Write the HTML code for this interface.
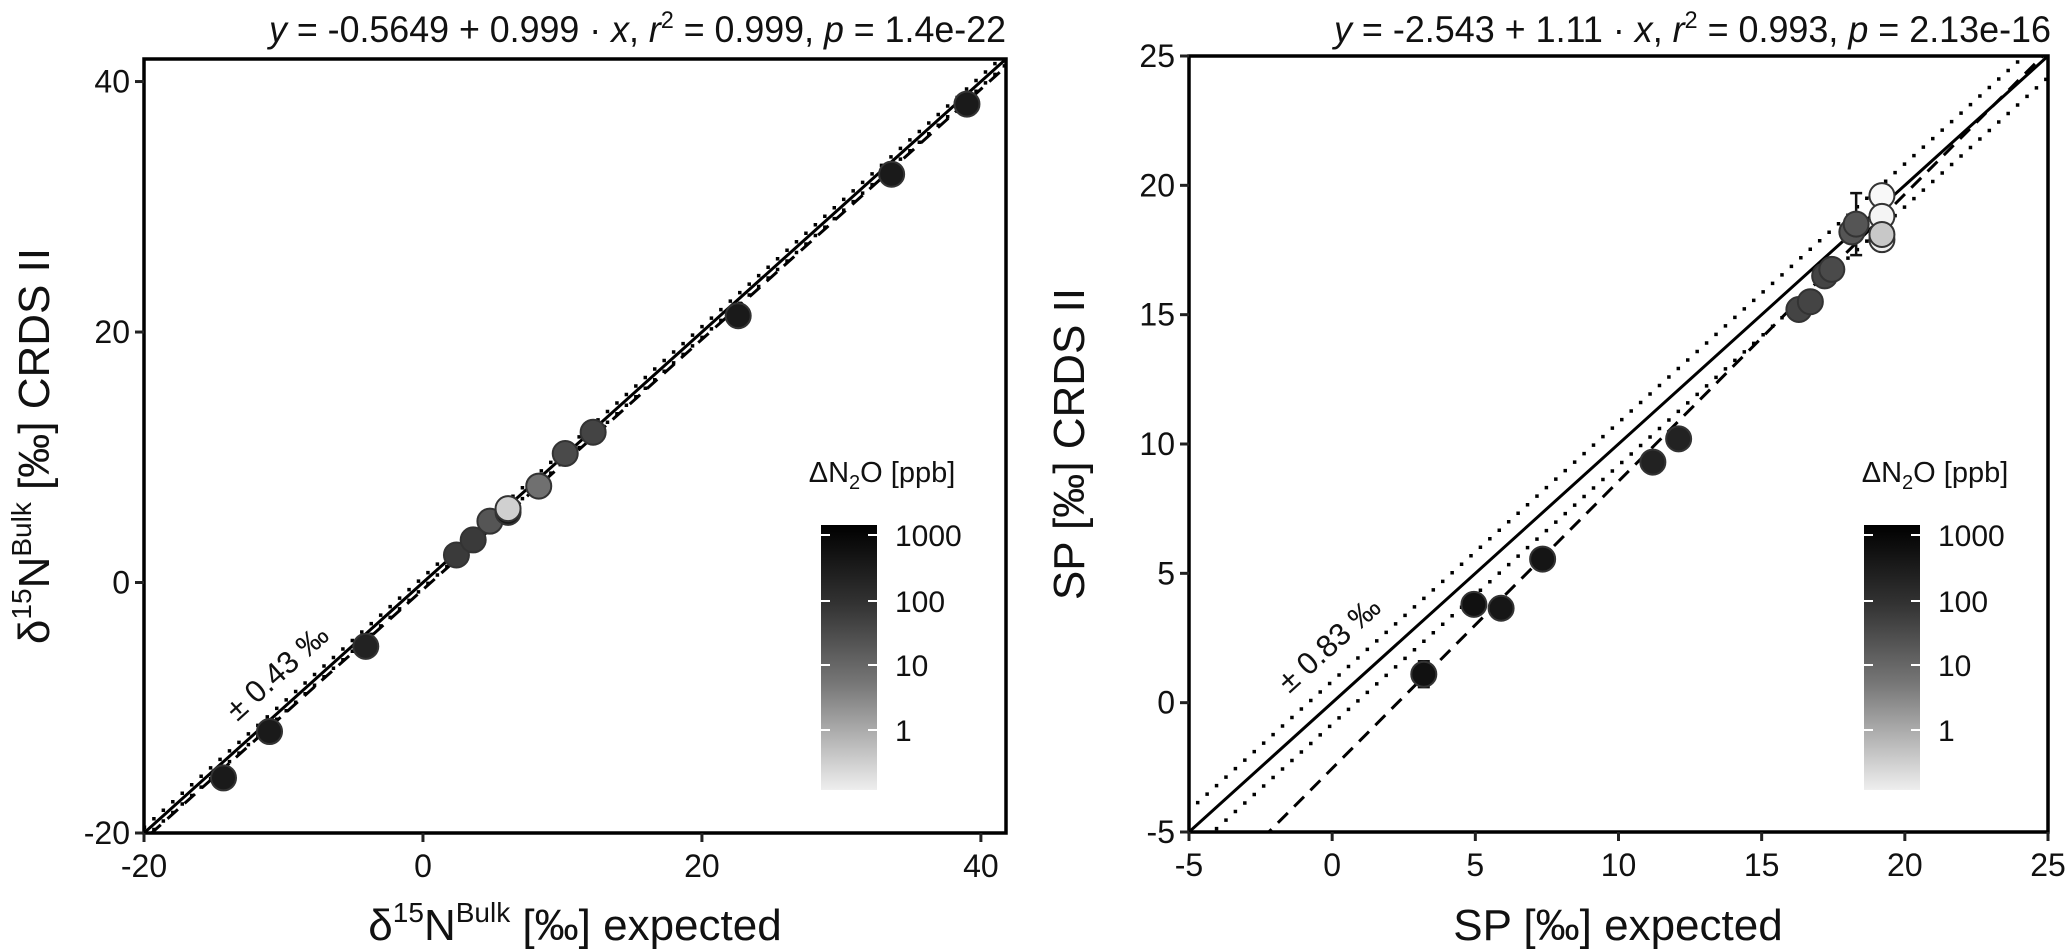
<!DOCTYPE html>
<html><head><meta charset="utf-8"><style>
html,body{margin:0;padding:0;background:#fff;}
svg{display:block;font-family:"Liberation Sans",sans-serif;}
</style></head><body>
<svg id="fig" width="2067" height="952" viewBox="0 0 2067 952" xmlns="http://www.w3.org/2000/svg">
<defs>
<linearGradient id="cbar" x1="0" y1="0" x2="0" y2="1">
<stop offset="0" stop-color="#000"/><stop offset="0.3" stop-color="#333"/><stop offset="0.6" stop-color="#777"/><stop offset="1" stop-color="#eee"/>
</linearGradient>
<clipPath id="clipL"><rect x="144" y="59" width="862" height="774"/></clipPath>
<clipPath id="clipR"><rect x="1189" y="56" width="859" height="776"/></clipPath>
</defs>
</svg>
<script>
// ---- Left panel data ----
const leftX = [-14.3,-11.0,-4.1,2.4,3.6,4.8,6.1,6.1,8.3,10.2,12.2,22.6,33.6,39.0];
const leftY = [-15.6,-11.9,-5.1,2.2,3.4,4.9,5.6,5.9,7.7,10.3,12.0,21.3,32.6,38.2];
const leftFill = ['#1a1a1a','#1a1a1a','#222','#3a3a3a','#3a3a3a','#555','#1a1a1a','#d0d0d0','#707070','#4a4a4a','#444','#1a1a1a','#1a1a1a','#1a1a1a'];
const leftTicks = [-20,0,20,40];
const leftFit = [-0.5649,0.999];
const leftBand = [0.43];
// ---- Right panel data ----
const rightX = [3.2,4.95,5.9,7.35,11.2,12.1,16.3,16.7,17.2,17.45,18.15,18.3,19.2,19.2,19.2,19.2];
const rightY = [1.1,3.8,3.65,5.55,9.3,10.2,15.2,15.5,16.5,16.75,18.2,18.5,19.6,18.8,17.9,18.1];
const rightErr = [0.5,0.2,0.2,0.2,0.2,0.2,0.35,0.2,0.35,0.2,0.2,1.2,0.2,0.2,0.2,0.2];
const rightFill = ['#111','#111','#161616','#151515','#222','#222','#444','#444','#444','#4a4a4a','#555','#555','#f8f8f8','#f4f4f4','#f0f0f0','#c8c8c8'];
const rightTicks = [-5,0,5,10,15,20,25];
const rightFit = [-2.543,1.11];
const rightBand = [0.83];
const cbarTicks = ['1000','100','10','1'];

const NS='http://www.w3.org/2000/svg';
const svg=document.getElementById('fig');
function mk(tag,attrs,parent){const e=document.createElementNS(NS,tag);for(const k in attrs)e.setAttribute(k,attrs[k]);(parent||svg).appendChild(e);return e;}

function panel(o){
  const g=mk('g',{});
  
  
  const sx=v=>o.x0+(v-o.xmin)*(o.x1-o.x0)/(o.xmax-o.xmin);
  const sy=v=>o.y0-(v-o.ymin)*(o.y0-o.y1)/(o.ymax-o.ymin);
  const cg=mk('g',{'clip-path':'url(#'+o.clip+')'},g);
  function line(a,b,style,name){
    const xa=o.xmin-2, xb=o.xmax+2;
    const l=mk('line',Object.assign({x1:sx(xa),y1:sy(a+b*xa),x2:sx(xb),y2:sy(a+b*xb),stroke:'#000'},style),cg);
    
    
  }
  line(0,1,{'stroke-width':3},'one-to-one-line');
  line(o.fit[0],o.fit[1],{'stroke-width':3,'stroke-dasharray':'14 9'},'regression-line');
  line(o.band,1,{'stroke-width':3.5,'stroke-dasharray':'0 12.7','stroke-linecap':'square'},'upper-band-line');
  line(-o.band,1,{'stroke-width':3.5,'stroke-dasharray':'0 12.7','stroke-linecap':'square'},'lower-band-line');
  if(o.err){o.xs.forEach((v,i)=>{const e=o.err[i];if(e<0.3)return;
    const eb=mk('path',{d:`M${sx(v)},${sy(o.ys[i]-e)}V${sy(o.ys[i]+e)}M${sx(v)-6},${sy(o.ys[i]-e)}h12M${sx(v)-6},${sy(o.ys[i]+e)}h12`,stroke:'#111','stroke-width':2.5,fill:'none'},cg);
    
    });}
  o.xs.forEach((v,i)=>{
    const c=mk('circle',{cx:sx(v),cy:sy(o.ys[i]),r:12.5,fill:o.fill[i],stroke:'#333','stroke-width':2},cg);
    
    
  });
  const fr=mk('rect',{x:o.x0,y:o.y1,width:o.xr-o.x0,height:o.y0-o.y1,fill:'none',stroke:'#000','stroke-width':3.5},g);
  
  
  o.ticks.forEach(t=>{
    const tx=mk('line',{x1:sx(t),y1:o.y0,x2:sx(t),y2:o.y0+9,stroke:'#222','stroke-width':3},g);
    
    
    const lx=mk('text',{x:sx(t),y:o.y0+44,'font-size':32,'text-anchor':'middle',fill:'#111'},g);
    lx.textContent=String(t);
    
    
    const ty=mk('line',{x1:o.x0-9,y1:sy(t),x2:o.x0,y2:sy(t),stroke:'#222','stroke-width':3},g);
    
    
    const ly=mk('text',{x:o.x0-14,y:sy(t)+11,'font-size':32,'text-anchor':'end',fill:'#111'},g);
    ly.textContent=String(t);
    
    
  });
  const cb=mk('rect',{x:o.cbx,y:525,width:56,height:265,fill:'url(#cbar)'},g);
  
  
  const cy=[535,601,665,730];
  cbarTicks.forEach((t,i)=>{
    mk('path',{d:`M${o.cbx},${cy[i]}h9M${o.cbx+47},${cy[i]}h9`,stroke:'#fff','stroke-width':2},g);
    const tl=mk('text',{x:o.cbx+74,y:cy[i]+11,'font-size':30,fill:'#111'},g);
    tl.textContent=t;
    
    
  });
  return {g,sx,sy};
}

panel({name:'left-panel',clip:'clipL',x0:144,xr:1006,y0:833,y1:59,xmin:-20,xmax:41.8,x1:1006,ymin:-20,ymax:41.8,
  xs:leftX,ys:leftY,fill:leftFill,ticks:leftTicks,fit:leftFit,band:leftBand[0],cbx:821});
panel({name:'right-panel',clip:'clipR',x0:1189,xr:2048,y0:832,y1:56,xmin:-5,xmax:25,x1:2048,ymin:-5,ymax:25,
  xs:rightX,ys:rightY,err:rightErr,fill:rightFill,ticks:rightTicks,fit:rightFit,band:rightBand[0],cbx:1864});
</script>
<svg width="2067" height="952" style="position:absolute;left:0;top:0;font-family:'Liberation Sans',sans-serif" xmlns="http://www.w3.org/2000/svg">
<text x="269" y="42" font-size="37" textLength="737" lengthAdjust="spacingAndGlyphs" fill="#111"><tspan font-style="italic">y</tspan> = -0.5649 + 0.999 · <tspan font-style="italic">x</tspan>,  <tspan font-style="italic">r</tspan><tspan font-size="24" dy="-14">2</tspan><tspan dy="14"> = 0.999,  </tspan><tspan font-style="italic">p</tspan> = 1.4e-22</text>
<text x="1334" y="42" font-size="37" textLength="717" lengthAdjust="spacingAndGlyphs" fill="#111"><tspan font-style="italic">y</tspan> = -2.543 + 1.11 · <tspan font-style="italic">x</tspan>,  <tspan font-style="italic">r</tspan><tspan font-size="24" dy="-14">2</tspan><tspan dy="14"> = 0.993,  </tspan><tspan font-style="italic">p</tspan> = 2.13e-16</text>
<text x="575" y="940" font-size="44" text-anchor="middle" fill="#111">δ<tspan font-size="28" dy="-18">15</tspan><tspan dy="18">N</tspan><tspan font-size="28" dy="-18">Bulk</tspan><tspan dy="18"> [‰]  expected</tspan></text>
<text x="1618" y="940" font-size="44" text-anchor="middle" fill="#111">SP [‰]  expected</text>
<text transform="translate(49,446) rotate(-90)" font-size="44" text-anchor="middle" fill="#111">δ<tspan font-size="28" dy="-18">15</tspan><tspan dy="18">N</tspan><tspan font-size="28" dy="-18">Bulk</tspan><tspan dy="18"> [‰] CRDS II</tspan></text>
<text transform="translate(1084,444) rotate(-90)" font-size="44" text-anchor="middle" fill="#111">SP [‰] CRDS II</text>
<text x="882" y="482" font-size="29" text-anchor="middle" fill="#111">ΔN<tspan font-size="20" dy="7">2</tspan><tspan dy="-7">O [ppb]</tspan></text>
<text x="1935" y="482" font-size="29" text-anchor="middle" fill="#111">ΔN<tspan font-size="20" dy="7">2</tspan><tspan dy="-7">O [ppb]</tspan></text>
<text transform="translate(284,680) rotate(-42)" font-size="31" text-anchor="middle" fill="#111">± 0.43 ‰</text>
<text transform="translate(1336,652) rotate(-42)" font-size="31" text-anchor="middle" fill="#111">± 0.83 ‰</text>
</svg>
</body></html>
